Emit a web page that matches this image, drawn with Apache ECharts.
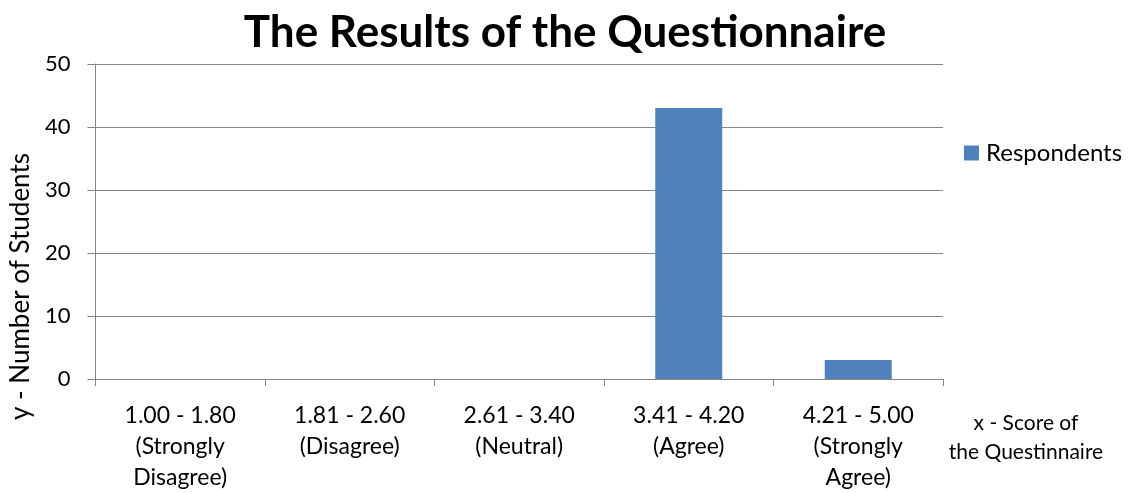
<!DOCTYPE html>
<html><head><meta charset="utf-8">
<script src="https://cdn.jsdelivr.net/npm/echarts@6/dist/echarts.min.js"></script>
<style>html,body{margin:0;padding:0;background:#fff}#c{width:1130px;height:493px}</style>
</head><body><div id="c"></div>
<script>
const categories = ["1.00 - 1.80\n(Strongly\nDisagree)", "1.81 - 2.60\n(Disagree)", "2.61 - 3.40\n(Neutral)", "3.41 - 4.20\n(Agree)", "4.21 - 5.00\n(Strongly\nAgree)"];
const respondents = [0, 0, 0, 43, 3];
const seriesName = "Respondents";
const FONT = "Lato";
const chart = echarts.init(document.getElementById('c'));
chart.setOption({
  animation: false,
  textStyle: { fontFamily: FONT },
  title: { text: "The Results of the Questionnaire", left: 'center', top: 6,
    textStyle: { fontFamily: FONT, fontWeight: 'bold', fontSize: 44, color: '#000' } },
  legend: { data: [seriesName], left: 964, top: 141, padding: 0, icon: 'rect', itemWidth: 15, itemHeight: 15, itemGap: 6,
    textStyle: { fontFamily: FONT, fontSize: 24, color: '#000', padding: [0, 0, 0, 2] } },
  grid: { left: 92, right: 187, top: 64, bottom: 114 },
  xAxis: { type: 'category', data: categories,
    axisLine: { lineStyle: { color: '#868686', width: 1 } },
    axisTick: { show: true, length: 7, lineStyle: { color: '#868686' } },
    axisLabel: { interval: 0, fontFamily: FONT, fontSize: 23, color: '#000', lineHeight: 31, margin: 21 },
    name: "x - Score of\nthe Questinnaire", nameLocation: 'end', nameGap: 83,
    nameTextStyle: { fontFamily: FONT, fontSize: 21, color: '#000', align: 'center', verticalAlign: 'top', lineHeight: 29, padding: [30, 0, 0, 0] } },
  yAxis: { type: 'value', min: 0, max: 50, interval: 10,
    axisLine: { show: true, lineStyle: { color: '#868686', width: 1 } },
    axisTick: { show: true, length: 8, lineStyle: { color: '#868686' } },
    splitLine: { lineStyle: { color: '#868686', width: 1 } },
    axisLabel: { fontFamily: FONT, fontSize: 22, color: '#000', margin: 25 },
    name: "y - Number of Students", nameLocation: 'middle', nameGap: 54, nameRotate: 90,
    nameTextStyle: { fontFamily: FONT, fontSize: 26, color: '#000', padding: [0, 130, 0, 0] } },
  series: [{ name: seriesName, type: 'bar', data: respondents, barWidth: 67,
    itemStyle: { color: '#4F81BD' } }]
});
</script></body></html>
